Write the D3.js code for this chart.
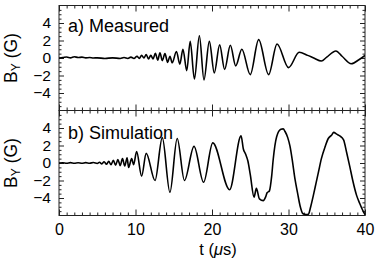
<!DOCTYPE html>
<html>
<head>
<meta charset="utf-8">
<script src="https://cdn.jsdelivr.net/npm/d3@7"></script>
<style>
  body { margin: 0; background: #fff; }
  svg { font-family: "Liberation Sans", Arial, Helvetica, sans-serif; }
  .tick line { stroke: #222; }
  .tick text { fill: #000; }
</style>
</head>
<body>
<div id="chart"></div>
<script>
// measured B_Y vs time (us)
var measT = [0, 0.5, 1, 1.5, 2, 2.5, 3, 3.5, 4, 4.5, 5, 6, 7, 8, 8.5, 9, 9.4, 9.8, 10.2, 10.5,
  10.8, 11.1, 11.4, 11.7, 12.0, 12.3, 12.6, 12.9, 13.2, 13.5, 13.85, 14.2, 14.5, 14.8, 15.35, 15.8,
  16.2, 16.7, 17.15, 17.7, 18.35, 18.95, 19.65, 20.3, 21.0, 21.65, 22.4, 23.1, 23.9, 25.0,
  26.1, 27.4, 28.5, 30.0, 31.4, 32.5, 33.3, 34.3, 35.0, 36.2, 37.0, 38.2, 39.2, 40];
var measB = [0, 0.05, 0.12, 0.02, 0.15, 0.05, 0.1, 0.02, 0.05, 0, 0.02, -0.05, 0.02, -0.05, 0.05, -0.05, 0.1, -0.05, 0.2, -0.05,
  0.3, 0.0, 0.4, -0.1, 0.3, -0.1, 0.55, -0.25, 0.6, -0.3, 0.5, -0.5, 0.2, -0.55, 0.75, -0.7,
  1.0, -1.45, 1.9, -2.4, 2.55, -2.5, 1.9, -1.7, 1.5, -1.3, 1.45, -0.9, 1.0, -1.9,
  2.1, -1.9, 1.6, -1.1, 0.65, 0.3, 0.0, -0.35, 0.1, 0.8, 0.2, -0.65, -0.2, 0.3];

// simulated B_Y vs time (us)
var simT = [0, 0.5, 1, 1.5, 2, 2.5, 3, 3.5, 4, 4.5, 5, 5.3, 5.6, 5.9, 6.2, 6.5, 6.8, 7.1, 7.4, 7.7,
  8.0, 8.3, 8.6, 8.9, 9.1, 9.5, 9.75, 10.15, 10.8, 11.4, 12.55, 13.5, 14.5, 15.45, 16.4, 17.65,
  18.9, 20.1, 22.3, 23.8, 24.1, 24.4, 24.7, 25.0, 25.5, 25.8, 26.2, 26.7, 27.0, 27.2, 27.5, 27.8,
  28.0, 28.45, 29.0, 29.3, 29.55, 29.9, 30.2, 30.5, 30.85, 31.2, 31.5, 31.9, 32.3, 32.6, 32.9,
  33.25, 33.6, 33.9, 34.3, 34.8, 35.2, 35.65, 35.9, 36.3, 36.7, 37.2, 37.6, 38.0, 38.4, 38.9,
  39.3, 39.7, 40];
var simB = [0, 0.03, -0.03, 0.04, -0.02, 0.03, -0.03, 0.04, -0.02, 0.05, -0.05, 0.08, -0.1, 0.15, -0.15, 0.2, -0.2, 0.3, -0.25, 0.4,
  -0.3, 0.5, -0.35, 0.6, -0.5, 0.5, -0.2, 1.3, -1.5, 1.1, -2.0, 2.9, -3.35, 2.8, -2.0, 1.9,
  -2.2, 2.3, -3.05, 3.1, 1.6, 1.0, 0.2, -1.3, -3.9, -2.9, -4.1, -4.3, -3.9, -3.4, -3.2, -1.5,
  0.4, 3.0, 3.85, 3.9, 3.6, 2.9, 1.9, 0.3, -1.85, -3.5, -4.85, -5.8, -5.9, -5.85, -5.0,
  -3.7, -2.3, -1.1, 0.5, 1.9, 2.8, 3.2, 3.5, 3.3, 3.1, 2.65, 1.2, -0.35, -2.0, -3.7,
  -4.6, -5.4, -5.9];

var xMajor = [0, 10, 20, 30, 40];
var yMajor = [-4, -2, 0, 2, 4];

var svgWidth = 382, svgHeight = 263;
var margin = { top: 5.5, right: 17, bottom: 47.5, left: 59 };
var width = svgWidth - margin.left - margin.right;
var panelH = (svgHeight - margin.top - margin.bottom) / 2;

var svg = d3.select("#chart").append("svg")
  .attr("width", svgWidth)
  .attr("height", svgHeight);

var x = d3.scaleLinear().domain([0, 40]).range([0, width]);

var panels = [
  { t: measT, b: measB, label: "a) Measured", top: margin.top },
  { t: simT, b: simB, label: "b) Simulation", top: margin.top + panelH }
];

panels.forEach(function (p, i) {
  var g = svg.append("g").attr("transform", `translate(${margin.left}, ${p.top})`);
  var y = d3.scaleLinear().domain([-6, 6]).range([panelH, 0]);

  // clip for the trace
  g.append("clipPath").attr("id", "clip" + i)
    .append("rect").attr("width", width).attr("height", panelH);

  var xMinor = d3.range(0, 41, 1).filter(d => d % 10 !== 0);
  var yMinor = d3.range(-5.5, 6, 0.5).filter(d => yMajor.indexOf(d) < 0);

  function axisSet(axisFn, scale, vals, size, pos, labels) {
    var a = g.append("g").attr("transform", pos)
      .call(axisFn(scale).tickValues(vals).tickSize(size).tickPadding(8)
        .tickFormat(labels ? d3.format("d") : ""));
    a.select(".domain").remove();
    a.selectAll("text").style("font-size", "16px");
    return a;
  }

  // x ticks, bottom and top, pointing inward
  axisSet(d3.axisBottom, x, xMajor, -6, `translate(0, ${panelH})`, i === 1);
  axisSet(d3.axisBottom, x, xMinor, -3, `translate(0, ${panelH})`, false);
  axisSet(d3.axisTop, x, xMajor, -6, "translate(0, 0)", false);
  axisSet(d3.axisTop, x, xMinor, -3, "translate(0, 0)", false);

  // y ticks, left and right
  var yl = axisSet(d3.axisLeft, y, yMajor, -5, "translate(0, 0)", true);
  yl.selectAll("text").style("font-size", "15.5px");
  axisSet(d3.axisLeft, y, yMinor, -2.5, "translate(0, 0)", false);
  axisSet(d3.axisRight, y, yMajor, -5, `translate(${width}, 0)`, false);
  axisSet(d3.axisRight, y, yMinor, -2.5, `translate(${width}, 0)`, false);

  // frame
  g.append("rect")
    .attr("width", width).attr("height", panelH)
    .attr("fill", "none").attr("stroke", "#222").attr("stroke-width", 1);

  var data = p.t.map((t, k) => ({ t: t, b: p.b[k] }));
  var line = d3.line()
    .x(d => x(d.t))
    .y(d => y(d.b))
    .curve(d3.curveMonotoneX);

  g.append("path")
    .datum(data)
    .attr("clip-path", `url(#clip${i})`)
    .attr("fill", "none")
    .attr("stroke", "#000")
    .attr("stroke-width", 1.6)
    .attr("stroke-linejoin", "round")
    .attr("d", line);

  g.append("text")
    .attr("x", 9).attr("y", i === 0 ? 26.5 : 28)
    .style("font-size", "18px")
    .text(p.label);

  // y axis title
  var yt = g.append("text")
    .attr("transform", `translate(${-42}, ${panelH / 2}) rotate(-90)`)
    .attr("text-anchor", "middle")
    .style("font-size", "17.5px");
  yt.append("tspan").text("B");
  yt.append("tspan").attr("dy", 3).style("font-size", "12px").text("Y");
  yt.append("tspan").attr("dy", -3).text(" (G)");
});

// x axis title
var xt = svg.append("text")
  .attr("x", margin.left + width / 2 + 6)
  .attr("y", 255)
  .attr("text-anchor", "middle")
  .style("font-size", "16.5px");
xt.append("tspan").text("t (");
xt.append("tspan").style("font-style", "italic").text("\u03bc");
xt.append("tspan").text("s)");
</script>
</body>
</html>
